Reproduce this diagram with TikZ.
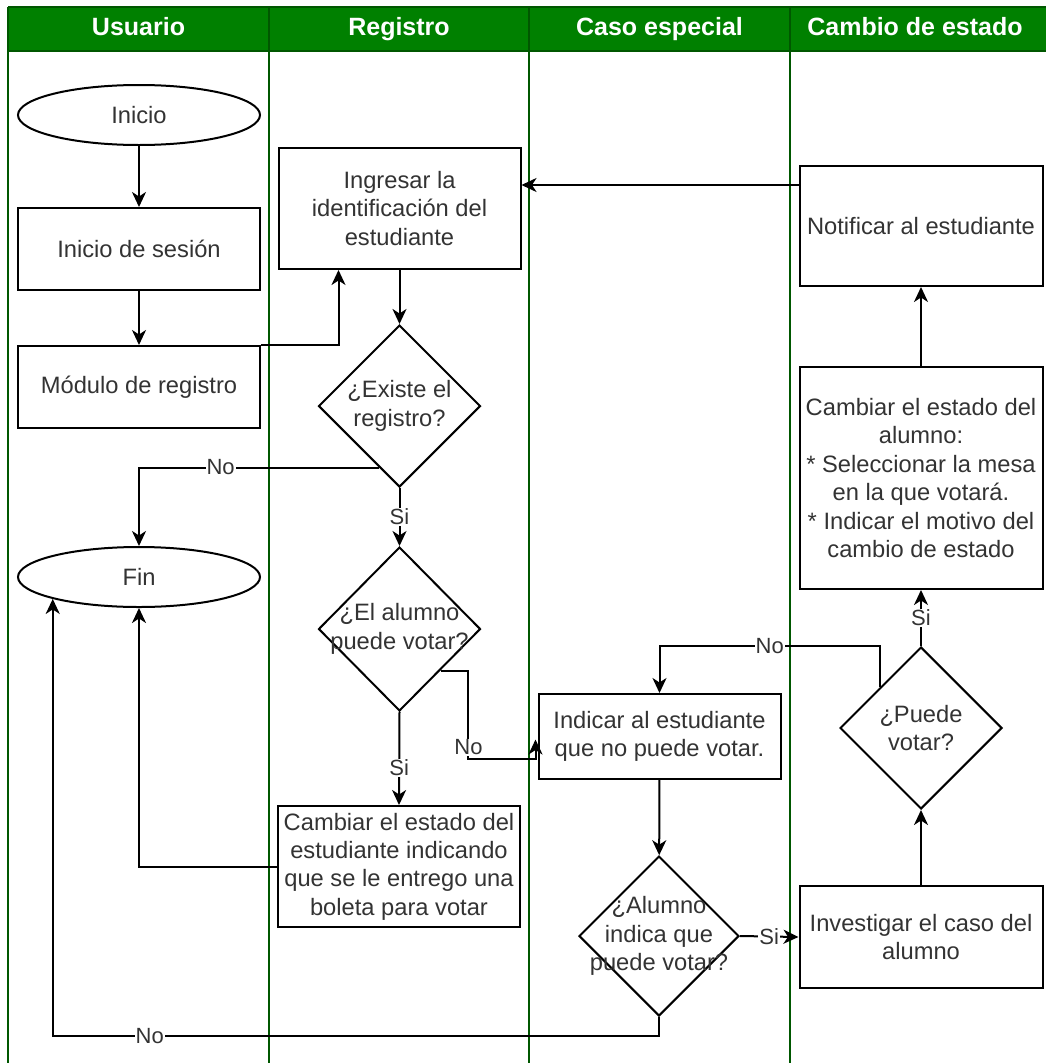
\documentclass[tikz,border=0pt]{standalone}
\usepackage{fontspec}
\setmainfont{Liberation Sans}
\usetikzlibrary{shapes.geometric,arrows.meta,calc}

\definecolor{headgreen}{HTML}{008000}
\definecolor{laneline}{HTML}{005700}
\definecolor{txtgray}{HTML}{333333}

\newcommand{\fcBody}{\fontsize{23.7}{28.4}\selectfont}
\newcommand{\fcLabel}{\fontsize{22}{26}\selectfont}
\newcommand{\fcHead}{\fontsize{25}{30}\selectfont\bfseries}

\tikzset{
  proc/.style={rectangle, draw=black, line width=2pt, fill=white,
    minimum width=242pt, inner sep=0pt, align=center, text=txtgray, font=\fcBody},
  term/.style={ellipse, draw=black, line width=2pt, fill=white,
    minimum width=242pt, minimum height=60pt, inner sep=0pt, text=txtgray, font=\fcBody},
  dia/.style={diamond, draw=black, line width=2pt, fill=white,
    minimum width=162pt, minimum height=162pt, inner sep=0pt},
  dtext/.style={align=center, text=txtgray, font=\fcBody, inner sep=0pt},
  arr/.style={draw=black, line width=2pt, -{Stealth[length=15pt,width=14pt,inset=4.5pt]}},
  lbl/.style={fill=white, text=txtgray, font=\fcLabel, inner sep=1pt},
  lanesep/.style={draw=laneline, line width=1.6pt},
  headtext/.style={text=white, font=\fcHead, text height=18pt, text depth=5pt, inner sep=0pt}
}

\begin{document}
\begin{tikzpicture}[x=1pt,y=-1pt]
\useasboundingbox (0,0) rectangle (1045,1063);
\fill[white] (0,0) rectangle (1045,1063);

% swimlane header and separators
\fill[headgreen] (8,7) rectangle (1046,51);
\draw[lanesep] (8,7) -- (1046,7);
\draw[lanesep] (8,51) -- (1046,51);
\foreach \lx in {8,269,529,790}
  \draw[lanesep] (\lx,7) -- (\lx,1063);
\node[headtext] (hUsuario)  at (138.5,29) {Usuario};
\node[headtext] (hRegistro) at (399,29)   {Registro};
\node[headtext] (hCaso)     at (659.5,29) {Caso especial};
\node[headtext] (hCambio)   at (915,29)   {Cambio de estado};

% lane: Usuario
\node[term] (inicio) at (139,115) {Inicio};
\node[proc, minimum height=82pt] (sesion) at (139,249) {Inicio de sesión};
\node[proc, minimum height=82pt] (modulo) at (139,387) {Módulo de registro};
\node[term] (fin) at (139,577) {Fin};

% lane: Registro
\node[proc, minimum height=121pt] (ingresar) at (399.5,208.5)
  {Ingresar la\\identificación del\\estudiante};
\node[dia] (existe) at (399.5,406) {};
\node[dtext] (existeT) at (existe) {¿Existe el\\registro?};
\node[dia, minimum height=164pt] (alumno) at (399.5,629) {};
\node[dtext] (alumnoT) at (alumno) {¿El alumno\\puede votar?};
\node[proc, minimum height=121pt] (entrega) at (399,866.5)
  {Cambiar el estado del\\estudiante indicando\\que se le entrego una\\boleta para votar};

% lane: Caso especial
\node[proc, minimum height=85pt] (indicar) at (659.5,736.5)
  {Indicar al estudiante\\que no puede votar.};
\node[dia, minimum width=160pt, minimum height=160pt] (indica) at (659,936) {};
\node[dtext] (indicaT) at (indica) {¿Alumno\\indica que\\puede votar?};

% lane: Cambio de estado
\node[proc, minimum width=243pt, minimum height=120pt] (notificar) at (921,226)
  {Notificar al estudiante};
\node[proc, minimum width=243pt, minimum height=222pt] (cambiar) at (921,478)
  {Cambiar el estado del\\alumno:\\* Seleccionar la mesa\\en la que votará.\\* Indicar el motivo del\\cambio de estado};
\node[dia] (puede) at (921,728) {};
\node[dtext] (puedeT) at (puede) {¿Puede\\votar?};
\node[proc, minimum width=243pt, minimum height=102pt] (investigar) at (921,937)
  {Investigar el caso del\\alumno};

% connectors
\draw[arr] (inicio) -- (sesion);
\draw[arr] (sesion) -- (modulo);
\draw[arr] (modulo.north east) -| ($(ingresar.south west)!0.25!(ingresar.south east)$);
\draw[arr] (ingresar) -- (existe);

\coordinate (exNo) at ($(existe.west)!0.75!(existe.south)$);
\draw[arr] (exNo) -| node[lbl, pos=0.33] {No} (fin.north);
\draw[arr] (existe.south) -- node[lbl] {Si} (alumno.north);

\coordinate (alNo) at ($(alumno.east)!0.5!(alumno.south)$);
\draw[arr] (alNo) -| ($(indicar.west)+(-70,22.5)$) -- ($(indicar.west)+(-2,22.5)$)
  -- ($(indicar.west)+(-2,3)$);
\node[lbl] (alNoT) at ($(indicar.west)+(-69,11)$) {No};
\draw[arr] (alumno.south) -- node[lbl, pos=0.6] {Si} (entrega.north);
\draw[arr] (entrega.west) -| (fin.south);

\draw[arr] (indicar) -- (indica);
\draw[arr] (indica.east) -- node[lbl] {Si} (investigar.west);
\draw[arr] (indica.south) -- ++(0,19) -| node[lbl, pos=0.42] {No} (fin.south west);

\draw[arr] (investigar) -- (puede);
\draw[arr] (puede.north) -- node[lbl] {Si} (cambiar.south);
\coordinate (pvNo) at ($(puede.west)!0.5!(puede.north)$);
\draw[arr] (pvNo) -- (pvNo |- puede.north) -| node[lbl, pos=0.25] {No} (indicar.north);
\draw[arr] (cambiar) -- (notificar);

\coordinate (notOut) at ($(notificar.north west)+(0,20)$);
\draw[arr] (notOut) -- (notOut -| ingresar.east);
\end{tikzpicture}
\end{document}
